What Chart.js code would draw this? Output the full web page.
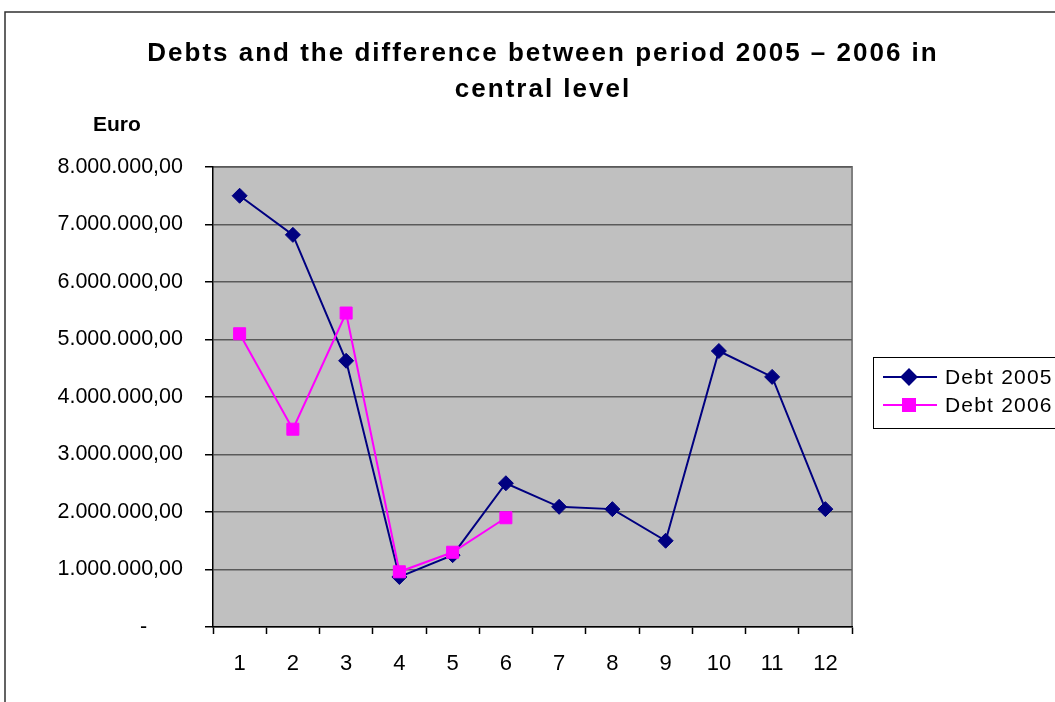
<!DOCTYPE html>
<html>
<head>
<meta charset="utf-8">
<title>Debts 2005 – 2006</title>
<script src="https://cdn.jsdelivr.net/npm/chart.js@4.4.1/dist/chart.umd.min.js"></script>
<style>
  html, body { margin: 0; padding: 0; background: #ffffff; }
  #wrap { position: relative; width: 1055px; height: 702px; }
  canvas { display: block; }
</style>
</head>
<body>
<div id="wrap"><canvas id="chart" width="1055" height="702"></canvas></div>
<script>
// Categories along the horizontal axis
const categories = ['1', '2', '3', '4', '5', '6', '7', '8', '9', '10', '11', '12'];

// Debt per category, in euro
const debt2005 = [7500000, 6820000, 4630000, 870000, 1250000, 2500000, 2090000, 2050000, 1500000, 4800000, 4350000, 2050000];
const debt2006 = [5100000, 3440000, 5460000, 960000, 1300000, 1900000, null, null, null, null, null, null];

// Vertical axis range and tick step
const yMin = 0;
const yMax = 8000000;
const yStep = 1000000;

const titleLines = ['Debts and the difference between period 2005 – 2006 in', 'central level'];
const axisUnit = 'Euro';

const FONT = '"Liberation Sans", Arial, sans-serif';

// 8000000 -> "8.000.000,00"; zero shown as a dash
function euroFormat(v) {
  if (v === 0) return '-      ';
  const s = Math.round(v).toString().replace(/\B(?=(\d{3})+(?!\d))/g, '.');
  return s + ',00';
}

function setSpacing(ctx, px) {
  if ('letterSpacing' in ctx) ctx.letterSpacing = px + 'px';
}

// Grey plot background, frame, title, unit label and legend
const decorations = {
  id: 'decorations',
  beforeDraw(chart) {
    const { ctx, chartArea: a } = chart;
    ctx.save();
    ctx.fillStyle = '#ffffff';
    ctx.fillRect(0, 0, chart.width, chart.height);
    ctx.fillStyle = '#c0c0c0';
    ctx.fillRect(a.left, a.top, a.right - a.left, a.bottom - a.top);
    ctx.strokeStyle = '#808080';
    ctx.lineWidth = 2;
    ctx.beginPath();
    ctx.moveTo(a.left, a.top);
    ctx.lineTo(a.right, a.top);
    ctx.lineTo(a.right, a.bottom);
    ctx.stroke();
    // outer frame
    ctx.strokeStyle = '#303030';
    ctx.lineWidth = 1.5;
    ctx.beginPath();
    ctx.moveTo(5, chart.height + 2);
    ctx.lineTo(5, 12);
    ctx.lineTo(chart.width + 2, 12);
    ctx.stroke();
    ctx.restore();
  },
  afterDraw(chart) {
    const { ctx } = chart;
    ctx.save();
    ctx.fillStyle = '#000000';
    ctx.textAlign = 'center';
    ctx.textBaseline = 'middle';
    ctx.font = 'bold 26px ' + FONT;
    setSpacing(ctx, 2);
    ctx.fillText(titleLines[0], 543, 54);
    ctx.fillText(titleLines[1], 543, 90);
    setSpacing(ctx, 0);
    ctx.font = 'bold 21px ' + FONT;
    ctx.textAlign = 'left';
    ctx.fillText(axisUnit, 93, 125);

    // legend
    const lx = 873, ly = 357, lw = 200, lh = 71;
    ctx.fillStyle = '#ffffff';
    ctx.fillRect(lx, ly, lw, lh);
    ctx.strokeStyle = '#000000';
    ctx.lineWidth = 1;
    ctx.strokeRect(lx + 0.5, ly + 0.5, lw, lh);
    ctx.font = '21px ' + FONT;
    chart.data.datasets.forEach((ds, i) => {
      const y = 377 + i * 28;
      ctx.strokeStyle = ds.borderColor;
      ctx.lineWidth = 2;
      ctx.beginPath();
      ctx.moveTo(883, y);
      ctx.lineTo(937, y);
      ctx.stroke();
      Chart.helpers.drawPoint(ctx, {
        pointStyle: ds.pointStyle,
        radius: ds.pointRadius,
        borderWidth: 1
      }, 909, y);
      ctx.fillStyle = ds.backgroundColor;
      ctx.fill();
      ctx.fillStyle = '#000000';
      ctx.textAlign = 'left';
      ctx.textBaseline = 'middle';
      setSpacing(ctx, 1.2);
      ctx.fillText(ds.label, 945, y + 1);
      setSpacing(ctx, 0);
    });
    ctx.restore();
  }
};

new Chart(document.getElementById('chart'), {
  type: 'line',
  data: {
    labels: categories,
    datasets: [
      {
        label: 'Debt 2005',
        data: debt2005,
        borderColor: '#000080',
        backgroundColor: '#000080',
        borderWidth: 2,
        pointStyle: 'rectRot',
        pointRadius: 7.5,
        pointBorderWidth: 1,
        tension: 0,
        order: 1
      },
      {
        label: 'Debt 2006',
        data: debt2006,
        borderColor: '#ff00ff',
        backgroundColor: '#ff00ff',
        borderWidth: 2,
        pointStyle: 'rect',
        pointRadius: 8.5,
        pointBorderWidth: 1,
        tension: 0,
        spanGaps: false,
        order: 0
      }
    ]
  },
  options: {
    responsive: false,
    animation: false,
    layout: { padding: { left: 0, top: 167, right: 203, bottom: 0 } },
    plugins: {
      legend: { display: false },
      title: { display: false },
      tooltip: { enabled: false }
    },
    scales: {
      x: {
        offset: true,
        grid: {
          offset: true,
          drawOnChartArea: false,
          drawTicks: true,
          tickLength: 7,
          tickColor: '#000000',
          tickWidth: 1.5
        },
        border: { color: '#000000', width: 1.5 },
        ticks: {
          color: '#000000',
          font: { family: FONT, size: 22 },
          padding: 17,
          maxRotation: 0
        },
        afterFit(scale) { scale.height = 75; }
      },
      y: {
        min: yMin,
        max: yMax,
        grid: {
          color: '#5a5a5a',
          lineWidth: 1.5,
          tickLength: 8,
          tickColor: '#000000',
          tickWidth: 1.5
        },
        border: { color: '#000000', width: 1.5 },
        ticks: {
          stepSize: yStep,
          color: '#000000',
          font: { family: FONT, size: 21.5 },
          padding: 22,
          callback: (v) => euroFormat(v)
        },
        afterFit(scale) { scale.width = 213; }
      }
    }
  },
  plugins: [decorations]
});
</script>
</body>
</html>
